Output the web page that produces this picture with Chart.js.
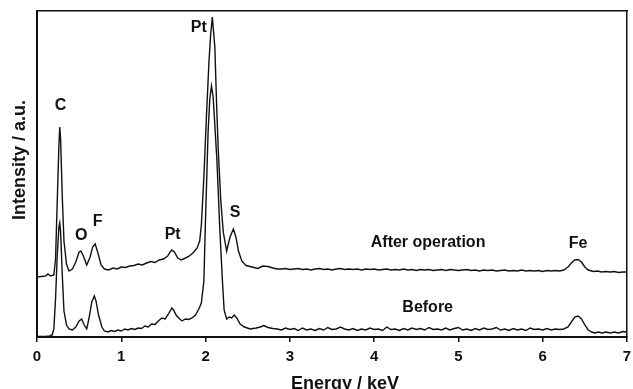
<!DOCTYPE html>
<html>
<head>
<meta charset="utf-8">
<script src="https://cdn.jsdelivr.net/npm/chart.js@4"></script>
<style>
  body { margin: 0; background: #fff; }
</style>
</head>
<body>
<canvas id="edx" width="633" height="389"></canvas>
<script>
// EDX spectrum: energy (keV) against intensity (a.u.)

var afterE = [0.00, 0.05, 0.10, 0.13, 0.16, 0.20, 0.22, 0.24, 0.26, 0.27, 0.28, 0.30, 0.32, 0.35, 0.38, 0.42, 0.46, 0.50, 0.52, 0.55,
  0.59, 0.63, 0.66, 0.69, 0.72, 0.76, 0.80, 0.85, 0.90, 0.95, 1.00, 1.05, 1.10, 1.15, 1.20, 1.25, 1.30, 1.35, 1.40, 1.45,
  1.50, 1.55, 1.58, 1.60, 1.63, 1.67, 1.71, 1.75, 1.80, 1.85, 1.90, 1.93, 1.95, 1.98, 2.01, 2.04, 2.06, 2.08, 2.095, 2.11,
  2.13, 2.15, 2.18, 2.21, 2.25, 2.29, 2.33, 2.36, 2.39, 2.43, 2.48, 2.55, 2.62, 2.68, 2.74, 2.80, 2.85,
  2.90, 2.95, 3.00, 3.05, 3.10, 3.15, 3.20, 3.25, 3.30, 3.35, 3.40, 3.45, 3.50, 3.55, 3.60, 3.65, 3.70, 3.75, 3.80, 3.85,
  3.90, 3.95, 4.00, 4.05, 4.10, 4.15, 4.20, 4.25, 4.30, 4.35, 4.40, 4.45, 4.50, 4.55, 4.60, 4.65, 4.70, 4.75, 4.80, 4.85,
  4.90, 4.95, 5.00, 5.05, 5.10, 5.15, 5.20, 5.25, 5.30, 5.35, 5.40, 5.45, 5.50, 5.55, 5.60, 5.65, 5.70, 5.75, 5.80, 5.85,
  5.90, 5.95, 6.00, 6.05, 6.10, 6.15, 6.20, 6.25, 6.30, 6.34, 6.38, 6.42, 6.46, 6.50, 6.54, 6.60, 6.65, 6.70, 6.75, 6.80,
  6.85, 6.90, 6.95, 7.00];
var afterI = [60, 60.5, 61, 63, 61, 62, 78, 135, 192, 210, 198, 140, 96, 73, 66, 68, 75, 85, 86, 81,
  72, 80, 90, 93, 85, 72, 68, 67, 69, 68, 70, 69.5, 71, 71.5, 73, 72, 74, 75.5, 74.5, 77,
  78, 81, 85, 87, 85, 79, 77, 78.5, 80.5, 84, 89, 96, 112, 160, 220, 275, 302, 320, 305, 290,
  235, 188, 137, 105, 86, 100, 108, 100, 86, 76, 71.5, 70, 68.5, 71, 70.5, 69, 68,
  68, 68.5, 67.5, 68, 68.5, 67.5, 68, 67, 68, 68.5, 67.5, 68, 67, 68, 68.5, 67.5, 68, 67.5, 68, 67,
  68, 67.5, 68, 67, 67.5, 68, 67, 67.5, 67, 68, 67, 67.5, 66.5, 67.5, 67, 67.5, 66.5, 67, 67.5, 66.5,
  67.5, 67, 66.5, 67, 67.5, 66.5, 67, 66, 67, 66.5, 67, 66, 66.5, 67, 66, 66.5, 66, 67, 66, 66.5,
  66, 66.5, 65.5, 66.5, 66, 66.5, 66, 67, 70, 74, 77, 77.5, 75, 70, 67, 65.5, 66, 65, 65.5, 65,
  65.5, 64.5, 65, 65];

var beforeE = [0.00, 0.10, 0.15, 0.18, 0.20, 0.22, 0.24, 0.26, 0.27, 0.28, 0.30, 0.32, 0.35, 0.38, 0.42, 0.46, 0.50, 0.53, 0.56, 0.59,
  0.62, 0.65, 0.68, 0.70, 0.73, 0.77, 0.80, 0.84, 0.88, 0.92, 0.96, 1.00, 1.04, 1.08, 1.12, 1.16, 1.20, 1.24, 1.28, 1.32,
  1.36, 1.40, 1.44, 1.48, 1.52, 1.56, 1.60, 1.62, 1.65, 1.68, 1.72, 1.76, 1.80, 1.84, 1.88, 1.92, 1.95, 1.98, 2.00, 2.03,
  2.05, 2.07, 2.09, 2.10, 2.135, 2.17, 2.20, 2.22, 2.25, 2.28, 2.31, 2.34, 2.37, 2.41, 2.46, 2.53, 2.60, 2.65, 2.69, 2.74, 2.80,
  2.85, 2.90, 2.95, 3.00, 3.05, 3.10, 3.15, 3.20, 3.25, 3.30, 3.35, 3.40, 3.45, 3.50, 3.55, 3.60, 3.65, 3.70, 3.75, 3.80,
  3.85, 3.90, 3.95, 4.00, 4.05, 4.10, 4.15, 4.20, 4.25, 4.30, 4.35, 4.40, 4.45, 4.50, 4.55, 4.60, 4.65, 4.70, 4.75, 4.80,
  4.85, 4.90, 4.95, 5.00, 5.05, 5.10, 5.15, 5.20, 5.25, 5.30, 5.35, 5.40, 5.45, 5.50, 5.55, 5.60, 5.65, 5.70, 5.75, 5.80,
  5.85, 5.90, 5.95, 6.00, 6.05, 6.10, 6.15, 6.20, 6.25, 6.30, 6.34, 6.38, 6.42, 6.46, 6.50, 6.54, 6.58, 6.62, 6.66, 6.70,
  6.75, 6.80, 6.85, 6.90, 6.95, 7.00];
var beforeI = [0.5, 0.5, 1, 2, 8, 38, 82, 110, 114, 105, 62, 26, 12, 8, 7, 10, 16, 18, 12, 8,
  20, 35, 41, 36, 22, 10, 6, 5, 6.5, 5.5, 7, 6, 8, 7, 8.5, 7.5, 9, 8.5, 11, 10,
  13, 12.5, 16, 19, 18, 23, 29, 27, 22, 19, 16, 18, 17.5, 19, 22, 28, 34, 56, 120, 205,
  238, 251, 240, 226, 176, 106, 56, 27, 18, 20, 19, 22, 19, 13, 10, 8, 9, 10, 11.5, 9.5, 8.5,
  8, 7, 9, 7.5, 8.5, 6.5, 9, 7, 8, 6.5, 8.5, 7, 9.5, 7.5, 8, 10, 8, 7, 8.5, 6.5,
  8, 7, 9, 7.5, 8, 6.5, 10, 7.5, 8, 6.5, 8.5, 7, 9, 7.5, 8.5, 7, 9.5, 7.5, 8, 7,
  9, 7, 8.5, 9.5, 7, 8, 6.5, 8.5, 7, 9, 7.5, 8, 9.5, 7, 8, 6.5, 8.5, 7, 8, 6.5,
  9, 7.5, 8, 7, 8.5, 7, 8, 7.5, 8, 10, 15, 20, 21, 18, 12, 7, 5, 4, 5, 4,
  5, 4, 5, 4, 5.5, 5];

var xTicks = [0, 1, 2, 3, 4, 5, 6, 7];

// peak and curve labels: text, energy, intensity (centre of the capitals)
var annoText = ["C", "O", "F", "Pt", "Pt", "S", "After operation", "Before", "Fe"];
var annoE    = [0.28, 0.524, 0.718, 1.61, 1.92, 2.35, 4.64, 4.635, 6.42];
var annoI    = [233, 103, 117, 104, 311, 125.5, 95.5, 30.5, 94.5];

var xTitle = "Energy / keV";
var yTitle = "Intensity / a.u.";

var ink = "#111";
var fam = "'Liberation Sans', Arial, sans-serif";

function pairs(xs, ys) {
    return xs.map(function (e, i) { return { x: e, y: ys[i] }; });
}

var labelPlugin = {
    id: "labels",
    afterDatasetsDraw: function (chart) {
        var ctx = chart.ctx;
        var sx = chart.scales.x, sy = chart.scales.y;
        ctx.save();
        ctx.fillStyle = ink;
        ctx.font = "bold 16px " + fam;
        ctx.textAlign = "center";
        ctx.textBaseline = "alphabetic";
        for (var i = 0; i < annoText.length; i++) {
            ctx.fillText(annoText[i], sx.getPixelForValue(annoE[i]), sy.getPixelForValue(annoI[i]) + 5.7);
        }
        // axis titles
        ctx.font = "bold 18px " + fam;
        ctx.fillText(xTitle, 345, 388.5);
        ctx.translate(24.5, 160);
        ctx.rotate(-Math.PI / 2);
        ctx.fillText(yTitle, 0, 0);
        ctx.restore();
    }
};

var lineStyle = {
    borderColor: ink,
    borderWidth: 1.4,
    pointRadius: 0,
    fill: false,
    tension: 0
};

var chart = new Chart(document.getElementById("edx"), {
    type: "line",
    data: {
        datasets: [
            Object.assign({ label: "After operation", data: pairs(afterE, afterI) }, lineStyle),
            Object.assign({ label: "Before", data: pairs(beforeE, beforeI) }, lineStyle)
        ]
    },
    options: {
        responsive: false,
        animation: false,
        layout: { padding: { top: 11, right: 6, left: 0, bottom: 0 } },
        plugins: { legend: { display: false }, tooltip: { enabled: false } },
        scales: {
            x: {
                type: "linear", position: "bottom", min: 0, max: 7,
                afterBuildTicks: function (s) { s.ticks = xTicks.map(function (v) { return { value: v }; }); },
                ticks: { color: ink, font: { family: fam, size: 15, weight: "bold" }, padding: 6, maxRotation: 0 },
                grid: { drawOnChartArea: false, drawTicks: true, tickLength: 5, color: ink, lineWidth: 1.5 },
                border: { color: ink, width: 2 },
                afterFit: function (s) { s.height = 52; s.paddingLeft = 0; s.paddingRight = 0; }
            },
            x2: {
                type: "linear", position: "top", min: 0, max: 7,
                ticks: { display: false },
                grid: { display: false },
                border: { color: ink, width: 1.5 },
                afterFit: function (s) { s.height = 0; }
            },
            y: {
                min: 0, max: 326,
                ticks: { display: false },
                grid: { display: false },
                border: { color: ink, width: 2 },
                afterFit: function (s) { s.width = 37; }
            },
            y2: {
                position: "right", min: 0, max: 326,
                ticks: { display: false },
                grid: { display: false },
                border: { color: ink, width: 1.5 },
                afterFit: function (s) { s.width = 0; }
            }
        }
    },
    plugins: [labelPlugin]
});
</script>
</body>
</html>
